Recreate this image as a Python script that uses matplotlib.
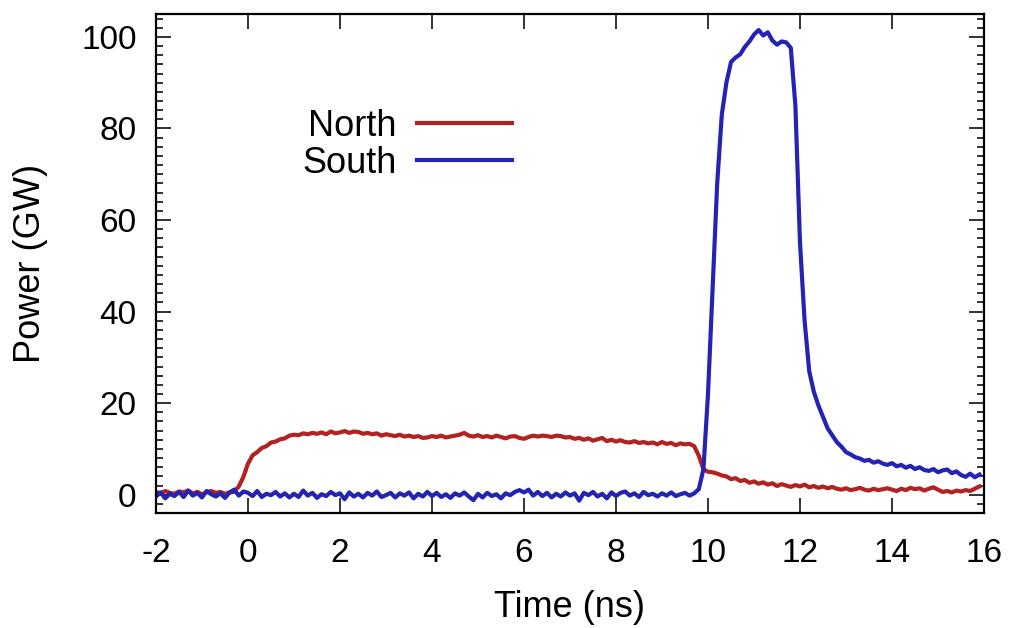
"""Power traces for the North and South channels (GW vs ns)."""

import numpy as np
import matplotlib
matplotlib.use("Agg")
import matplotlib.pyplot as plt
from matplotlib.ticker import MultipleLocator

# sampling: one value every 0.1 ns starting at -2.0 ns
T_START = -2.0
T_STEP = 0.1

# one row per nanosecond, -2 .. 15
north = [
    0.6, 0.3, 0.8, 0.4, 0.2, 0.7, 0.5, 0.9, 0.3, 0.6,
    0.1, 0.5, 0.8, 0.4, 0.6, 0.2, 0.5, 0.6, 1.8, 3.9,
    6.8, 8.6, 9.3, 10.2, 10.6, 11.4, 11.6, 12.1, 12.3, 12.9,
    13.1, 13.0, 13.4, 13.2, 13.5, 13.3, 13.6, 13.2, 13.8, 13.4,
    13.6, 13.9, 13.5, 13.8, 13.7, 13.3, 13.5, 13.2, 13.4, 12.9,
    13.2, 13.0, 12.8, 13.1, 12.7, 12.9, 12.6, 12.8, 12.4, 12.5,
    12.8, 12.6, 12.9, 12.5, 12.7, 12.9, 13.1, 13.5, 12.9, 12.7,
    13.0, 12.6, 12.8, 12.5, 12.9, 12.6, 12.3, 12.7, 12.8, 12.4,
    12.2, 12.6, 12.9, 12.7, 12.9, 12.8, 12.6, 12.9, 12.8, 12.5,
    12.6, 12.2, 12.4, 12.0, 12.3, 11.8, 12.1, 12.4, 11.7, 12.0,
    11.6, 11.9, 11.5, 11.4, 11.7, 11.3, 11.5, 11.2, 11.4, 11.0,
    11.5, 11.1, 11.3, 10.8, 11.2, 11.0, 11.1, 10.6, 8.5, 5.6,
    5.0, 4.9, 4.6, 4.2, 4.0, 3.4, 3.6, 3.0, 3.2, 2.6,
    2.9, 2.4, 2.7, 2.2, 2.5, 1.9, 2.3, 2.0, 1.7, 2.1,
    1.8, 2.2, 1.6, 1.9, 1.5, 1.8, 1.4, 1.7, 1.3, 1.1,
    1.4, 1.0, 1.2, 1.5, 1.1, 0.9, 1.3, 1.0, 1.2, 1.4,
    1.1, 0.8, 1.3, 1.0, 1.5, 1.2, 1.4, 0.9, 1.3, 1.6,
    1.1, 0.6, 0.8, 0.5, 0.9, 0.7, 1.0, 0.8, 1.3, 1.8,
]

south = [
    -0.4, 0.5, -0.8, 0.2, -0.3, 0.6, -0.5, 0.9, -0.2, 0.4,
    -0.6, 0.8, 0.1, -0.4, 0.3, -0.7, 0.5, 1.1, -0.2, 0.7,
    0.4, -0.3, 0.8, -0.5, 0.2, -0.1, 0.6, -0.4, 0.3, -0.6,
    0.2, -0.5, 0.9, -0.2, 0.4, -0.7, 0.1, -0.3, 0.6, -0.1,
    0.3, -1.0, 0.5, -0.4, 0.2, -0.6, 0.4, -0.2, 0.7, -0.5,
    -0.1, 0.4, -0.6, 0.3, -0.2, 0.5, -0.8, 0.2, -0.4, 0.6,
    -0.3, 0.4, -0.5, 0.1, -0.7, 0.3, -0.2, 0.5, -0.4, -1.2,
    0.2, -0.6, 0.4, -0.3, 0.1, -0.8, 0.3, -0.1, 0.6, 1.0,
    0.5, 1.1, -0.2, 0.6, -0.3, 0.4, -0.6, 0.2, -0.4, 0.5,
    -0.2, 0.3, -1.3, 0.4, -0.1, 0.6, -0.4, 0.2, -0.8, 0.5,
    -0.3, 0.4, 0.7, -0.2, 0.3, -0.5, 0.6, -0.1, 0.2, -0.4,
    0.3, -0.2, 0.5, -0.3, 0.1, 0.4, -0.2, 0.3, 1.2, 5.5,
    22.0, 45.0, 68.0, 83.0, 90.0, 94.5, 95.5, 96.2, 97.8, 99.0,
    100.5, 101.5, 100.3, 101.0, 99.2, 98.3, 99.0, 98.8, 97.6, 85.0,
    55.0, 38.0, 27.0, 22.5, 19.5, 17.0, 14.5, 13.0, 11.5, 10.5,
    9.3, 8.8, 8.2, 7.9, 7.4, 7.6, 7.0, 7.3, 6.8, 6.5,
    6.9, 6.2, 6.5, 5.9, 6.3, 5.6, 6.0, 5.4, 5.2, 5.6,
    4.9, 5.3, 5.5, 4.7, 5.1, 4.3, 3.9, 4.6, 3.8, 4.4,
]

x_ticks = [-2, 0, 2, 4, 6, 8, 10, 12, 14, 16]
y_ticks = [0, 20, 40, 60, 80, 100]

RED = "#b22222"
BLUE = "#2323b4"

plt.rcParams["font.family"] = ["Liberation Sans", "DejaVu Sans"]
plt.rcParams["axes.unicode_minus"] = False

time = T_START + T_STEP * np.arange(len(north))

fig = plt.figure(figsize=(10.12, 6.28), dpi=100)
ax = fig.add_axes([156 / 1012, 1 - 513 / 628, 828 / 1012, 499 / 628])

ax.plot(time, north, color=RED, linewidth=3.0, label="North")
ax.plot(time, south, color=BLUE, linewidth=3.0, label="South")

ax.set_xlim(-2, 16)
ax.set_ylim(-4, 105)
ax.set_xticks(x_ticks)
ax.set_yticks(y_ticks)
ax.yaxis.set_minor_locator(MultipleLocator(2))

for side in ax.spines.values():
    side.set_linewidth(1.6)
ax.tick_params(which="both", direction="in", top=True, right=True,
               color="#333333", width=1.4, labelsize=24)
ax.tick_params(axis="x", which="major", length=11, pad=18)
ax.tick_params(axis="y", which="major", length=11, pad=14)
ax.tick_params(axis="y", which="minor", length=5)

ax.set_xlabel("Time (ns)", fontsize=26, labelpad=15)
ax.set_ylabel("Power (GW)", fontsize=26, labelpad=24)

ax.legend(loc="upper right", bbox_to_anchor=(512 / 1012, 1 - 109 / 628),
          bbox_transform=fig.transFigure, frameon=False, markerfirst=False,
          fontsize=26, handlelength=2.64, handletextpad=0.55,
          labelspacing=0.05, borderpad=0, borderaxespad=0)

fig.savefig("out.png", dpi=100)
